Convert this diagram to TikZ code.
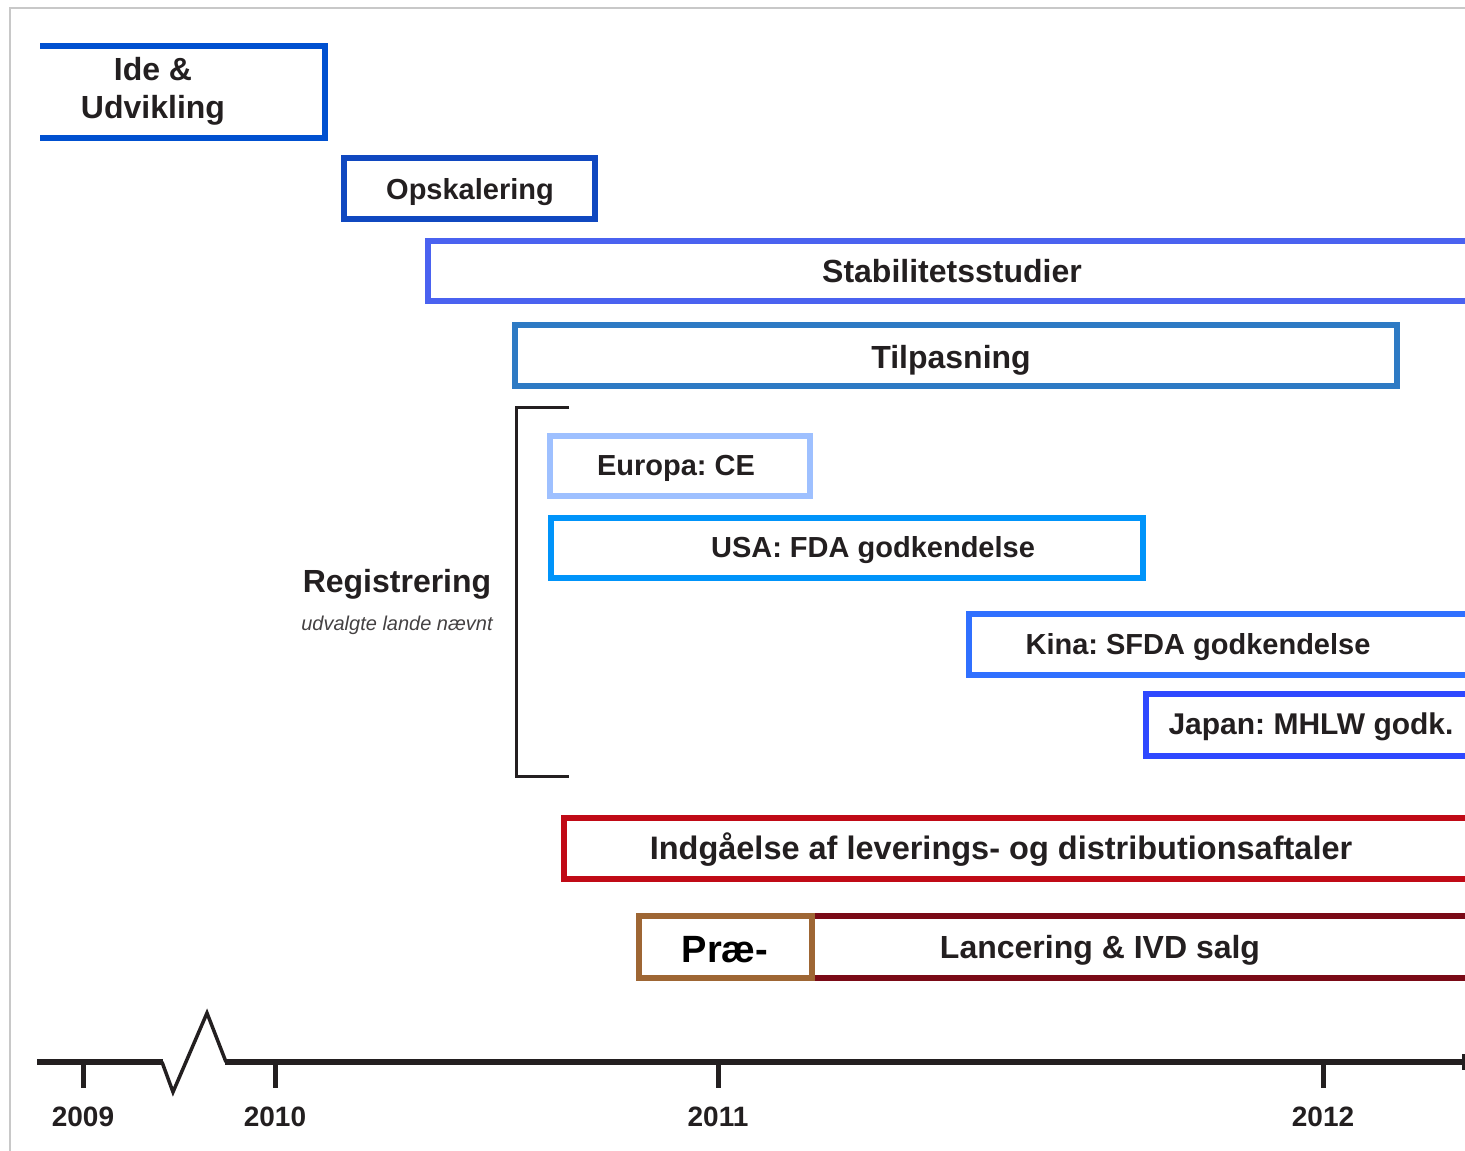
\documentclass[tikz,border=0pt]{standalone}
\usepackage{fontspec}
\setmainfont{Liberation Sans}
\frenchspacing

\definecolor{ink}{HTML}{231F20}
\definecolor{cIde}{HTML}{0050D0}
\definecolor{cOps}{HTML}{1048C0}
\definecolor{cStab}{HTML}{4A62F0}
\definecolor{cTilp}{HTML}{2E7AC4}
\definecolor{cEU}{HTML}{9EC0FF}
\definecolor{cUSA}{HTML}{0094FA}
\definecolor{cKina}{HTML}{3070FF}
\definecolor{cJapan}{HTML}{2F48FF}
\definecolor{cAftale}{HTML}{C00A16}
\definecolor{cPrae}{HTML}{9E6634}
\definecolor{cLanc}{HTML}{7A0A16}
\definecolor{cFrame}{HTML}{C8C8C8}

\tikzset{
    bar/.style={line width=6.5pt},
    lbl/.style={anchor=base, inner sep=0pt, text=ink,
        font=\bfseries\fontsize{32}{38}\selectfont},
    lblsmall/.style={lbl, font=\bfseries\fontsize{29}{34}\selectfont},
    yearlbl/.style={lbl, font=\bfseries\fontsize{28}{32}\selectfont},
    axisline/.style={line width=6pt, ink},
    yeartick/.style={line width=5pt, ink},
}

\begin{document}
\begin{tikzpicture}[x=1pt, y=-1pt]
\useasboundingbox (0,0) rectangle (1465,1151);

% frame
\draw[cFrame, line width=2pt] (10,1151) -- (10,8) -- (1465,8);

% phases
\draw[bar, cIde] (40,46) -- (325,46) -- (325,138) -- (40,138);
\node[lbl, anchor=center, align=center] (ide) at (153,91) {Ide \&\\Udvikling};

\draw[bar, cOps] (344,158) rectangle (595,219);
\node[lblsmall] (ops) at (470,199) {Opskalering};

\draw[bar, cStab] (1465,241) -- (428,241) -- (428,301) -- (1465,301);
\node[lbl] (stab) at (952,282) {Stabilitetsstudier};

\draw[bar, cTilp] (515,325) rectangle (1397,386);
\node[lbl] (tilp) at (951,368) {Tilpasning};

% registrering
\draw[ink, line width=3pt] (569,407) -- (516,407) -- (516,776) -- (569,776);
\node[lbl] (reg) at (397,592) {Registrering};
\node[anchor=base, inner sep=0pt, text=ink!85,
    font=\itshape\fontsize{20}{24}\selectfont] (regnote) at (397,630) {udvalgte lande nævnt};

\draw[bar, cEU] (550,436) rectangle (810,496);
\node[lblsmall] (eu) at (676,475) {Europa: CE};

\draw[bar, cUSA] (551,518) rectangle (1143,578);
\node[lblsmall] (usa) at (873,557) {USA: FDA godkendelse};

\draw[bar, cKina] (1465,614) -- (969,614) -- (969,675) -- (1465,675);
\node[lblsmall] (kina) at (1198,654) {Kina: SFDA godkendelse};

\draw[bar, cJapan] (1465,694) -- (1146,694) -- (1146,756) -- (1465,756);
\node[lbl, font=\bfseries\fontsize{30}{34}\selectfont] (japan) at (1311,734) {Japan: MHLW godk.};

% aftaler og lancering
\draw[bar, cAftale] (1465,818) -- (564,818) -- (564,879) -- (1465,879);
\node[lbl, font=\bfseries\fontsize{32.5}{38}\selectfont] (aftale) at (1001,859) {Indgåelse af leverings- og distributionsaftaler};

\draw[bar, cLanc] (812,916) -- (1465,916) (812,978) -- (1465,978);
\node[lbl] (lanc) at (1100,958) {Lancering \& IVD salg};

\draw[bar, cPrae] (639,916) rectangle (812,978);
\node[lbl, text=black, font=\bfseries\fontsize{38}{42}\selectfont] (prae) at (725,962) {Præ-};

% tidslinje
\draw[axisline] (37,1062) -- (163,1062);
\draw[ink, line width=3.5pt, miter limit=20] (162,1062) -- (173,1092) -- (207,1013) -- (226,1062);
\draw[axisline] (225,1062) -- (1463,1062);
\draw[ink, line width=3pt] (1463,1054) -- (1463,1070);
\foreach \x/\yr in {83/2009, 275/2010, 718/2011, 1323/2012}
{
    \draw[yeartick] (\x,1062) -- (\x,1088);
    \node[yearlbl] (y\yr) at (\x,1126) {\yr};
}
\end{tikzpicture}
\end{document}
